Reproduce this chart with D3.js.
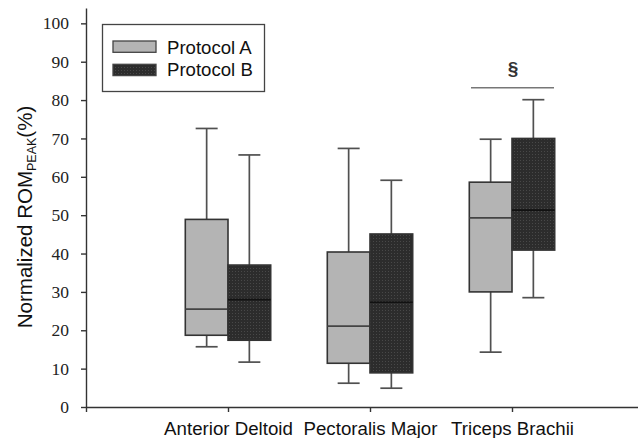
<!DOCTYPE html>
<html>
<head>
<meta charset="utf-8">
<script src="https://cdn.jsdelivr.net/npm/d3@7"></script>
<style>
  body { margin: 0; background: #fff; }
  svg { display: block; }
  .yax text { font-family: "Liberation Serif", "Times New Roman", serif; font-size: 17.5px; }
</style>
</head>
<body>
<svg width="638" height="438"></svg>
<script>
// box plot, two protocols per muscle

// data: [min, q1, median, q3, max]
const categories = ['Anterior Deltoid', 'Pectoralis Major', 'Triceps Brachii'];
const protocolA = [
	[15.7, 18.7, 25.5, 48.9, 72.6],
	[6.2, 11.4, 21.1, 40.4, 67.4],
	[14.3, 30.0, 49.3, 58.6, 69.8]
];
const protocolB = [
	[11.7, 17.4, 28.0, 37.0, 65.7],
	[4.9, 8.9, 27.3, 45.1, 59.1],
	[28.5, 40.9, 51.3, 70.0, 80.1]
];
const series = ['Protocol A', 'Protocol B'];
const yTicks = [0, 10, 20, 30, 40, 50, 60, 70, 80, 90, 100];
const sigValue = 83.2; // § bracket level (triceps)

var svg = d3.select('svg');

// scales
var x = d3.scaleLinear().domain([0, 4]).range([86, 654]);
var y = d3.scaleLinear().domain([0, 104]).range([407, 8]);
var boxW = 42.7;

// pattern for protocol B
var defs = svg.append('defs');
var pat = defs.append('pattern')
	.attr('id', 'dots')
	.attr('width', 3)
	.attr('height', 3)
	.attr('patternUnits', 'userSpaceOnUse');
pat.append('rect').attr('width', 3).attr('height', 3).attr('fill', '#2c2c2c');
pat.append('rect').attr('x', 1).attr('y', 1).attr('width', 1).attr('height', 1).attr('fill', '#484848');

var fills = ['#b4b4b4', 'url(#dots)'];

// axes
var yAxis = svg.append('g')
	.attr('class', 'yax')
	.attr('transform', 'translate(86,0)')
	.call(d3.axisLeft(y).tickValues(yTicks).tickSize(5).tickSizeOuter(0).tickPadding(12));
yAxis.selectAll('text')
	.style('font-family', '"Liberation Serif", "Times New Roman", serif')
	.style('font-size', '17.5px')
	.attr('fill', '#222');

var xAxis = svg.append('g')
	.attr('transform', 'translate(0,407)')
	.call(d3.axisBottom(x).tickValues([0, 1, 2, 3]).tickSize(5).tickSizeOuter(0).tickPadding(10)
		.tickFormat(function(d) { return d === 0 ? '' : categories[d - 1]; }));
xAxis.selectAll('text')
	.style('font-family', '"Liberation Sans", Arial, sans-serif')
	.style('font-size', '18.7px')
	.attr('fill', '#111');

svg.selectAll('.domain, .tick line').attr('stroke', '#333').attr('stroke-width', 1.4);

// boxes
[protocolA, protocolB].forEach(function(data, s) {
	var g = svg.append('g').attr('class', 'series' + s);
	var cx = function(i) { return x(i + 1) + (s === 0 ? -boxW / 2 : boxW / 2); };

	// whiskers
	g.selectAll('line.whisk')
		.data(data)
		.enter()
		.append('line')
		.attr('x1', function(d, i) { return cx(i); })
		.attr('x2', function(d, i) { return cx(i); })
		.attr('y1', function(d) { return y(d[0]); })
		.attr('y2', function(d) { return y(d[4]); })
		.attr('stroke', '#505050')
		.attr('stroke-width', 1.7);

	// caps
	[0, 4].forEach(function(k) {
		g.selectAll('line.cap' + k)
			.data(data)
			.enter()
			.append('line')
			.attr('x1', function(d, i) { return cx(i) - 11; })
			.attr('x2', function(d, i) { return cx(i) + 11; })
			.attr('y1', function(d) { return y(d[k]); })
			.attr('y2', function(d) { return y(d[k]); })
			.attr('stroke', '#505050')
			.attr('stroke-width', 1.7);
	});

	// box
	g.selectAll('rect.box')
		.data(data)
		.enter()
		.append('rect')
		.attr('x', function(d, i) { return cx(i) - boxW / 2; })
		.attr('y', function(d) { return y(d[3]); })
		.attr('width', boxW)
		.attr('height', function(d) { return y(d[1]) - y(d[3]); })
		.attr('fill', fills[s])
		.attr('stroke', '#333')
		.attr('stroke-width', 1.6);

	// median
	g.selectAll('line.med')
		.data(data)
		.enter()
		.append('line')
		.attr('x1', function(d, i) { return cx(i) - boxW / 2; })
		.attr('x2', function(d, i) { return cx(i) + boxW / 2; })
		.attr('y1', function(d) { return y(d[2]); })
		.attr('y2', function(d) { return y(d[2]); })
		.attr('stroke', s === 0 ? '#444' : '#111')
		.attr('stroke-width', 1.7);
});

// significance mark
svg.append('line')
	.attr('x1', x(3) - 41)
	.attr('x2', x(3) + 42)
	.attr('y1', y(sigValue))
	.attr('y2', y(sigValue))
	.attr('stroke', '#777')
	.attr('stroke-width', 1.4);
svg.append('text')
	.attr('x', x(3) + 1)
	.attr('y', y(sigValue) - 13)
	.attr('text-anchor', 'middle')
	.style('font-family', '"Liberation Sans", Arial, sans-serif')
	.style('font-size', '19px')
	.style('font-weight', 'bold')
	.attr('fill', '#333')
	.text('§');

// legend
var leg = svg.append('g');
leg.append('rect')
	.attr('x', 102.5).attr('y', 24.5)
	.attr('width', 162).attr('height', 67)
	.attr('fill', '#fff').attr('stroke', '#444').attr('stroke-width', 1.3);
series.forEach(function(name, s) {
	leg.append('rect')
		.attr('x', 113).attr('y', 41 + s * 23.3)
		.attr('width', 43).attr('height', 11.3)
		.attr('fill', fills[s]).attr('stroke', '#444').attr('stroke-width', 1.3);
	leg.append('text')
		.attr('x', 167).attr('y', 53.5 + s * 22.5)
		.style('font-family', '"Liberation Sans", Arial, sans-serif')
		.style('font-size', '18.6px')
		.attr('fill', '#111')
		.text(name);
});

// y label
var yl = svg.append('text')
	.attr('transform', 'translate(32,' + 217 + ') rotate(-90)')
	.attr('text-anchor', 'middle')
	.style('font-family', '"Liberation Sans", Arial, sans-serif')
	.style('font-size', '20.5px')
	.attr('fill', '#111');
yl.append('tspan').text('Normalized ROM');
yl.append('tspan').attr('dy', 4).style('font-size', '12.5px').text('PEAK');
yl.append('tspan').attr('dy', -4).text('(%)');
</script>
</body>
</html>
